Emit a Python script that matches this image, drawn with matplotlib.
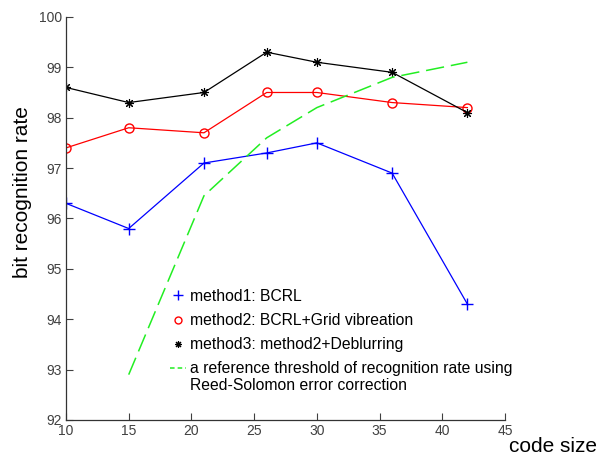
import matplotlib
matplotlib.use("Agg")
import matplotlib.pyplot as plt

plt.rcParams["font.family"] = ["Liberation Sans", "DejaVu Sans"]

code_size = [10, 15, 21, 26, 30, 36, 42]
method1 = [96.3, 95.8, 97.1, 97.3, 97.5, 96.9, 94.3]
method2 = [97.4, 97.8, 97.7, 98.5, 98.5, 98.3, 98.2]
method3 = [98.6, 98.3, 98.5, 99.3, 99.1, 98.9, 98.1]
rs_size = [15, 21, 26, 30, 36, 42]
rs_threshold = [92.9, 96.45, 97.6, 98.2, 98.8, 99.1]

labels = ["method1: BCRL",
          "method2: BCRL+Grid vibreation",
          "method3: method2+Deblurring",
          "a reference threshold of recognition rate using"]
label_extra = "Reed-Solomon error correction"

green = "#22ee22"
star = (8, 2, 0)

fig = plt.figure(figsize=(6.07, 4.57), dpi=100)
ax = fig.add_axes([0.1087, 0.081, 0.7233, 0.882])

ax.plot(code_size, method1, color="#0000ff", lw=0.9, marker="+", ms=8, mew=1)
ax.plot(code_size, method2, color="#ff0000", lw=0.9, marker="o", ms=6.5, mfc="none", mew=1)
ax.plot(code_size, method3, color="black", lw=0.9, marker=star, ms=6.5, mew=0.8)
ax.plot(rs_size, rs_threshold, color=green, lw=1.1, dashes=(12, 4.5))

# legend shows just markers for the methods
h1, = ax.plot([], [], ls="none", color="#0000ff", marker="+", ms=7)
h2, = ax.plot([], [], ls="none", color="#ff0000", marker="o", ms=5, mfc="none")
h3, = ax.plot([], [], ls="none", color="black", marker=star, ms=5, mew=0.8)
h4, = ax.plot([], [], color=green, lw=1.1, dashes=(3, 2))
leg = ax.legend([h1, h2, h3, h4], labels, loc="upper left", bbox_to_anchor=(0.237, 0.325),
                frameon=False, fontsize=11.3, handlelength=1.0, handletextpad=0.3,
                labelspacing=0.58, borderpad=0, borderaxespad=0)

ax.set_xlim(10, 45)
ax.set_ylim(92, 100)
ax.set_xticks(range(10, 46, 5))
ax.set_yticks(range(92, 101))
ax.spines["top"].set_visible(False)
ax.spines["right"].set_visible(False)
for s in ["left", "bottom"]:
    ax.spines[s].set_color("#333333")
    ax.spines[s].set_linewidth(0.9)
ax.tick_params(direction="in", length=5, labelsize=10, colors="#404040", pad=3)

# second line of the last legend entry, placed under its first line
fig.canvas.draw()
bb = leg.get_texts()[3].get_window_extent().transformed(fig.transFigure.inverted())
fig.text(bb.x0, (bb.y0 + bb.y1) / 2 - 17 / 457, label_extra, ha="left", va="center",
         fontsize=11.3)

fig.text(0.984, 0.022, "code size", ha="right", va="center", fontsize=15)
fig.text(0.037, 0.58, "bit recognition rate", rotation=90, ha="center", va="center",
         fontsize=15)

fig.savefig("out.png", dpi=100)
